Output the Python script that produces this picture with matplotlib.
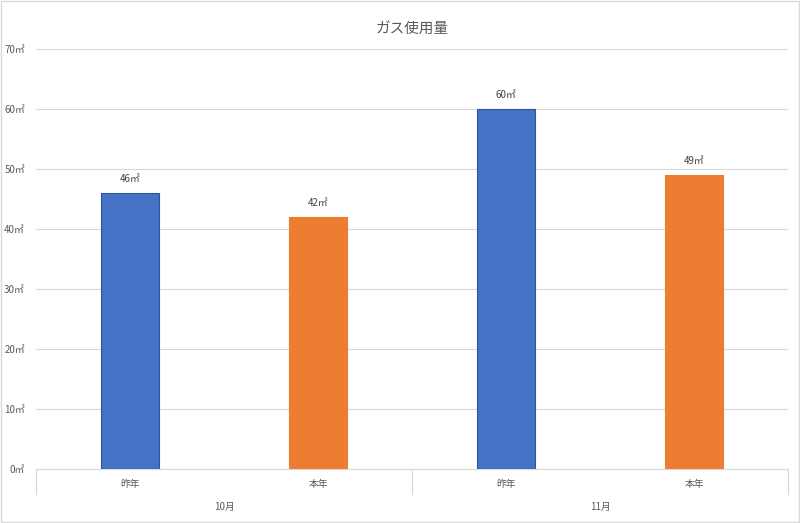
import matplotlib
matplotlib.use("Agg")
import matplotlib.pyplot as plt
from matplotlib.patches import Rectangle
from matplotlib.lines import Line2D

plt.rcParams['font.family'] = ['Noto Sans CJK JP', 'DejaVu Sans']

months = ["10月", "11月"]
years = ["昨年", "本年"]
values = [46, 42, 60, 49]
colors = ["#4472C4", "#ED7D31", "#4472C4", "#ED7D31"]
yticks = [0, 10, 20, 30, 40, 50, 60, 70]
tc = "#595959"

fig = plt.figure(figsize=(8, 5.23), dpi=100)
fig.patches.append(Rectangle((0.001, 0.001), 0.998, 0.998, transform=fig.transFigure,
                             fill=False, edgecolor="#D9D9D9", lw=1))
ax = fig.add_axes([0.045, 0.1033, 0.94, 0.803])
x = list(range(len(values)))
ax.bar(x, values, width=0.31, color=colors, edgecolor=[c for c in ["#2F5597", "#ED7D31"] * 2], lw=0.8, zorder=3)
for xi, v in zip(x, values):
    ax.text(xi, v + 1.5, f"{v}㎡", ha="center", va="bottom", fontsize=7, color="#404040")
ax.set_xlim(-0.5, 3.5)
ax.set_ylim(0, 70)
ax.set_yticks(yticks)
ax.set_yticklabels([f"{t}㎡" for t in yticks], fontsize=7, color=tc)
ax.grid(axis="y", color="#D9D9D9", lw=0.8, zorder=0)
for s in ["top", "right", "left"]:
    ax.spines[s].set_visible(False)
ax.spines["bottom"].set_color("#D9D9D9")
ax.tick_params(axis="y", length=0, pad=8)
ax.set_xticks([])
ax.set_title("ガス使用量", fontsize=10.5, color=tc, pad=12)

# multi-level category axis
tr = ax.get_xaxis_transform()
for xv in [-0.5, 1.5, 3.5]:
    ax.add_line(Line2D([xv, xv], [0, -0.06], transform=tr, color="#D9D9D9", lw=0.8, clip_on=False))
for xi in x:
    ax.text(xi, -0.035, years[xi % 2], transform=tr, ha="center", va="center", fontsize=7, color=tc)
for i, m in enumerate(months):
    ax.text(2 * i + 0.5, -0.09, m, transform=tr, ha="center", va="center", fontsize=7, color=tc)

fig.savefig("out.png", dpi=100)
